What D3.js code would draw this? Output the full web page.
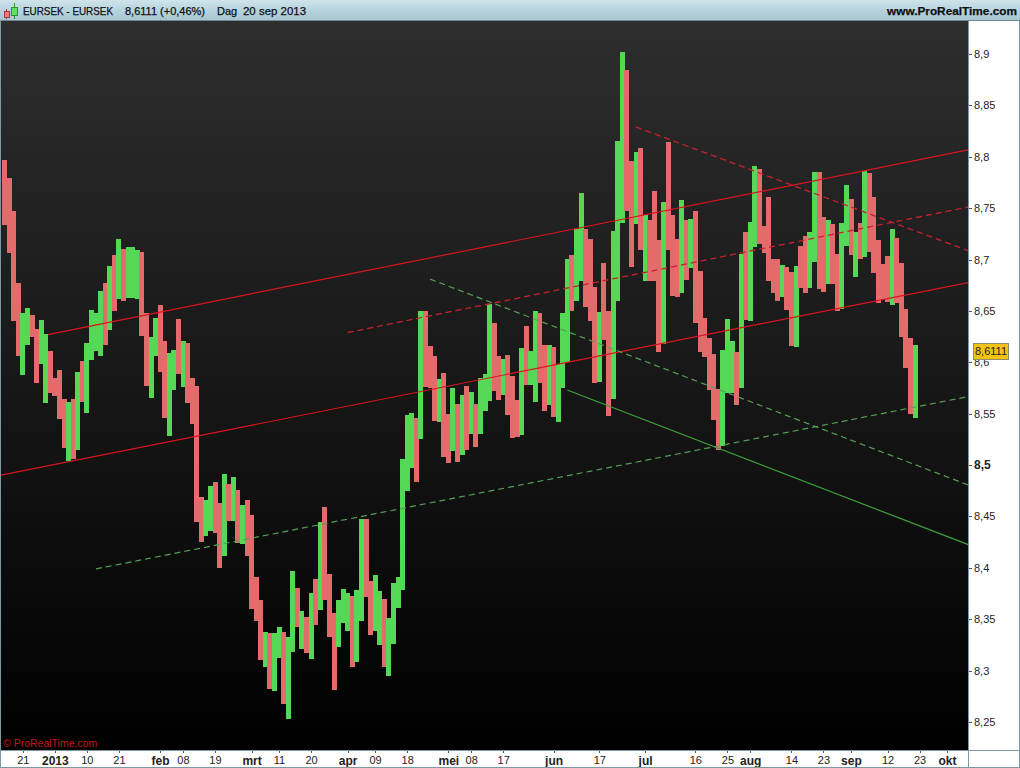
<!DOCTYPE html>
<html><head><meta charset="utf-8">
<script src="https://cdn.jsdelivr.net/npm/d3@7/dist/d3.min.js"></script>
<style>
html,body{margin:0;padding:0;background:#fff;overflow:hidden}
svg{display:block}
text{font-family:"Liberation Sans",Arial,sans-serif}
</style></head><body>
<svg id="c" width="1020" height="768"></svg>
<script>
const highs=[8.797,8.779,8.747,8.677,8.648,8.653,8.646,8.632,8.641,8.628,8.611,8.585,8.593,8.564,8.561,8.564,8.591,8.601,8.619,8.651,
8.648,8.669,8.677,8.694,8.704,8.720,8.710,8.712,8.712,8.709,8.707,8.648,8.625,8.643,8.656,8.621,8.609,8.612,8.642,8.621,
8.619,8.585,8.577,8.469,8.466,8.480,8.484,8.463,8.491,8.482,8.488,8.476,8.461,8.466,8.451,8.391,8.369,8.338,8.337,8.337,
8.342,8.338,8.333,8.397,8.380,8.358,8.352,8.376,8.389,8.445,8.459,8.394,8.356,8.369,8.379,8.376,8.373,8.378,8.448,8.448,
8.387,8.393,8.377,8.370,8.351,8.385,8.391,8.506,8.549,8.551,8.546,8.650,8.650,8.616,8.606,8.584,8.590,8.550,8.575,8.559,
8.568,8.577,8.571,8.559,8.585,8.589,8.657,8.638,8.606,8.603,8.607,8.587,8.563,8.614,8.635,8.611,8.650,8.648,8.617,8.617,
8.615,8.598,8.648,8.701,8.704,8.730,8.765,8.730,8.720,8.673,8.649,8.697,8.650,8.728,8.815,8.902,8.884,8.796,8.805,8.809,
8.743,8.738,8.767,8.719,8.756,8.814,8.743,8.720,8.758,8.738,8.739,8.747,8.689,8.643,8.624,8.608,8.574,8.612,8.642,8.621,
8.610,8.705,8.727,8.737,8.791,8.788,8.733,8.761,8.701,8.701,8.695,8.693,8.688,8.694,8.713,8.723,8.727,8.785,8.785,8.741,
8.738,8.735,8.705,8.736,8.773,8.759,8.727,8.736,8.786,8.784,8.761,8.719,8.696,8.703,8.730,8.721,8.697,8.652,8.624,8.617];
const lows=[8.734,8.706,8.640,8.606,8.588,8.617,8.625,8.580,8.598,8.560,8.570,8.567,8.545,8.517,8.504,8.506,8.515,8.561,8.551,8.602,
8.611,8.606,8.617,8.631,8.650,8.662,8.660,8.663,8.663,8.662,8.626,8.577,8.565,8.606,8.591,8.546,8.528,8.573,8.589,8.576,
8.560,8.540,8.445,8.425,8.431,8.436,8.434,8.400,8.412,8.446,8.446,8.424,8.423,8.412,8.360,8.348,8.310,8.304,8.282,8.280,
8.312,8.268,8.253,8.318,8.342,8.321,8.317,8.311,8.344,8.359,8.369,8.333,8.281,8.323,8.346,8.339,8.304,8.308,8.348,8.372,
8.335,8.339,8.325,8.304,8.295,8.326,8.361,8.378,8.475,8.497,8.484,8.525,8.576,8.575,8.543,8.542,8.508,8.502,8.514,8.503,
8.510,8.515,8.530,8.518,8.530,8.553,8.562,8.572,8.563,8.568,8.549,8.526,8.527,8.529,8.578,8.578,8.561,8.580,8.553,8.558,
8.547,8.542,8.575,8.600,8.650,8.660,8.679,8.654,8.640,8.580,8.581,8.622,8.548,8.564,8.660,8.736,8.747,8.693,8.735,8.709,
8.679,8.679,8.679,8.610,8.618,8.709,8.665,8.664,8.667,8.680,8.692,8.638,8.610,8.605,8.573,8.544,8.515,8.519,8.570,8.570,
8.558,8.575,8.641,8.640,8.712,8.715,8.706,8.679,8.667,8.660,8.664,8.651,8.616,8.615,8.672,8.667,8.672,8.698,8.671,8.668,
8.676,8.676,8.650,8.652,8.713,8.704,8.683,8.701,8.702,8.707,8.687,8.658,8.662,8.659,8.656,8.658,8.625,8.594,8.550,8.546];
const direction=("RRRRGGRRGG"+"RRRRGRGRGG"+"GGRGRGRGGG"+"RRGGRRGGRG"+"RRRRGGRRGR"+
"GRGRRRRGRG"+"GRGGRGRGRG"+"RRRGGGRGGR"+"RGGRGGGGGG"+"RGRRRGRRGR"+
"GRGRGGGRRG"+"RRRGRGGRRG"+"RGGGRGGRRR"+"GRRGGGRRGR"+"GRRRGRRRGR"+
"GRRRRRRGGG"+"RGRGGRRRRR"+"GRRGRRGGRR"+"GRRGGRGRGR"+"RRRRGRRRRG").split("");

const priceTicks=[8.25,8.3,8.35,8.4,8.45,8.5,8.55,8.6,8.65,8.7,8.75,8.8,8.85,8.9];
const boldPrice=[8.5];
const dateTickIndex=[4,11,18,25,34,39,46,54,60,67,75,81,88,97,102,109,120,130,140,151,158,163,172,179,185,193,200,206];
const dateTickLabel=["21","2013","10","21","feb","08","19","mrt","11","20","apr","09","18","mei","08","17","jun","17","jul","16","25","aug","14","23","sep","12","23","okt"];
const boldDates=["2013","feb","mrt","apr","mei","jun","jul","aug","sep","okt"];

const redUpper=[[9.5,8.627],[211,8.807]];
const redLower=[[-1,8.490],[211,8.678]];
const redMidDashed=[[75,8.629],[211,8.7515]];
const redFallDashed=[[138,8.829],[211,8.708]];
const greenFallDashed=[[93,8.681],[211,8.480]];
const greenFall=[[123,8.573],[211,8.422]];
const greenRiseDashed=[[20,8.399],[211,8.567]];

const lastPrice="8,6111";
const lastValue=8.6111;

const svg=d3.select("#c");
const plotL=1,plotR=968,plotT=21,plotB=750;
const x=d3.scaleLinear().domain([0,199]).range([4.5,915]);
const y=d3.scaleLinear().domain([8.25,8.9]).range([722,54]);

const defs=svg.append("defs");
const bg=defs.append("linearGradient").attr("id","bg").attr("x1",0).attr("x2",0).attr("y1",0).attr("y2",1);
bg.append("stop").attr("offset",0).attr("stop-color","#2e2e2e");
bg.append("stop").attr("offset",1).attr("stop-color","#000000");
const hd=defs.append("linearGradient").attr("id","hd").attr("x1",0).attr("x2",0).attr("y1",0).attr("y2",1);
hd.append("stop").attr("offset",0).attr("stop-color","#cfe3ea");
hd.append("stop").attr("offset",0.5).attr("stop-color","#b7d4de");
hd.append("stop").attr("offset",1).attr("stop-color","#a6c6d2");
defs.append("clipPath").attr("id","plot").append("rect").attr("x",plotL).attr("y",plotT).attr("width",plotR-plotL).attr("height",plotB-plotT);

svg.append("rect").attr("x",plotL).attr("y",plotT).attr("width",plotR-plotL).attr("height",plotB-plotT).attr("fill","url(#bg)");

const plot=svg.append("g").attr("clip-path","url(#plot)");
plot.append("g").attr("shape-rendering","crispEdges").selectAll("rect").data(highs).join("rect")
  .attr("x",(d,i)=>Math.round(x(i)-2.4))
  .attr("width",5)
  .attr("y",d=>Math.round(y(d)))
  .attr("height",(d,i)=>Math.round(y(lows[i]))-Math.round(y(d)))
  .attr("fill",(d,i)=>direction[i]==="G"?"#55d855":"#e36b6b");

const line=d3.line().x(d=>x(d[0])).y(d=>y(d[1]));
const trend=[
 [redUpper,"#dc1420",null,1.2],
 [redLower,"#dc1420",null,1.2],
 [redMidDashed,"#c8202c","6,4",1.3],
 [redFallDashed,"#c8202c","6,4",1.3],
 [greenFallDashed,"#55a055","6,4",1.2],
 [greenFall,"#3f9f3f",null,1.2],
 [greenRiseDashed,"#55a055","6,4",1.2]
];
plot.append("g").selectAll("path").data(trend).join("path")
  .attr("d",d=>line(d[0])).attr("fill","none")
  .attr("stroke",d=>d[1]).attr("stroke-dasharray",d=>d[2]).attr("stroke-width",d=>d[3]);

svg.append("text").attr("x",3).attr("y",747).attr("font-size",10.5).attr("fill","#c41818").text("© ProRealTime.com");

// axes
const rightAxis=d3.axisRight(y).tickValues(priceTicks).tickSize(4).tickPadding(2)
  .tickFormat(d=>String(+d.toFixed(2)).replace(".",","));
const ga=svg.append("g").attr("transform",`translate(${plotR},0)`).call(rightAxis);
ga.select(".domain").remove();
ga.selectAll("line").attr("stroke","#555").attr("shape-rendering","crispEdges");
ga.selectAll("text").attr("font-size",d=>boldPrice.includes(d)?12:11).attr("font-weight",d=>boldPrice.includes(d)?"bold":"normal").attr("fill","#222");

const bottomAxis=d3.axisBottom(x).tickValues(dateTickIndex).tickSize(3).tickPadding(3)
  .tickFormat((d,i)=>dateTickLabel[i]);
const gb=svg.append("g").attr("transform",`translate(0,${plotB})`).call(bottomAxis);
gb.select(".domain").remove();
gb.selectAll("line").attr("stroke","#555").attr("shape-rendering","crispEdges");
gb.selectAll("text").attr("font-size",(d,i)=>boldDates.includes(dateTickLabel[i])?12:11)
  .attr("font-weight",(d,i)=>boldDates.includes(dateTickLabel[i])?"bold":"normal").attr("fill","#222");

// frame
const frame=svg.append("g").attr("shape-rendering","crispEdges").attr("fill","#7d98a4");
frame.append("rect").attr("x",0).attr("y",21).attr("width",1).attr("height",747);
frame.append("rect").attr("x",plotR).attr("y",21).attr("width",1).attr("height",747);
frame.append("rect").attr("x",0).attr("y",plotB).attr("width",1020).attr("height",1);
frame.append("rect").attr("x",0).attr("y",767).attr("width",1020).attr("height",1);
frame.append("rect").attr("x",1019).attr("y",0).attr("width",1).attr("height",768);

// last price flag
const flag=svg.append("g").attr("transform",`translate(973,${Math.round(y(lastValue))})`);
flag.append("rect").attr("x",0).attr("y",-8).attr("width",35).attr("height",16).attr("fill","#f2c313").attr("stroke","#8f8f70").attr("shape-rendering","crispEdges");
flag.append("text").attr("x",2).attr("y",4).attr("font-size",11).attr("fill","#222").text(lastPrice);

// header
svg.append("rect").attr("x",0).attr("y",0).attr("width",1020).attr("height",20).attr("fill","url(#hd)");
svg.append("rect").attr("x",0).attr("y",20).attr("width",1020).attr("height",1).attr("fill","#6f8a96");
const icon=svg.append("g").attr("shape-rendering","crispEdges");
icon.append("line").attr("x1",6.5).attr("x2",6.5).attr("y1",9).attr("y2",19).attr("stroke","#a33");
icon.append("rect").attr("x",4).attr("y",11).attr("width",5).attr("height",6).attr("fill","#ef7a7a").attr("stroke","#a33");
icon.append("line").attr("x1",14.5).attr("x2",14.5).attr("y1",3).attr("y2",19).attr("stroke","#292");
icon.append("rect").attr("x",11).attr("y",7).attr("width",6).attr("height",8).attr("fill","#62e062").attr("stroke","#292");
const hdr=svg.append("g").attr("font-size",11).attr("fill","#111").attr("stroke","#111").attr("stroke-width",0.25);
hdr.append("text").attr("x",23).attr("y",15).attr("textLength",90).attr("lengthAdjust","spacingAndGlyphs").text("EURSEK - EURSEK");
hdr.append("text").attr("x",125).attr("y",15).attr("textLength",80).attr("lengthAdjust","spacingAndGlyphs").text("8,6111 (+0,46%)");
hdr.append("text").attr("x",217).attr("y",15).text("Dag");
hdr.append("text").attr("x",243).attr("y",15).attr("textLength",63).attr("lengthAdjust","spacingAndGlyphs").text("20 sep 2013");
hdr.append("text").attr("x",887).attr("y",15).attr("textLength",130).attr("lengthAdjust","spacingAndGlyphs").attr("font-weight","bold").text("www.ProRealTime.com");
</script>
</body></html>
